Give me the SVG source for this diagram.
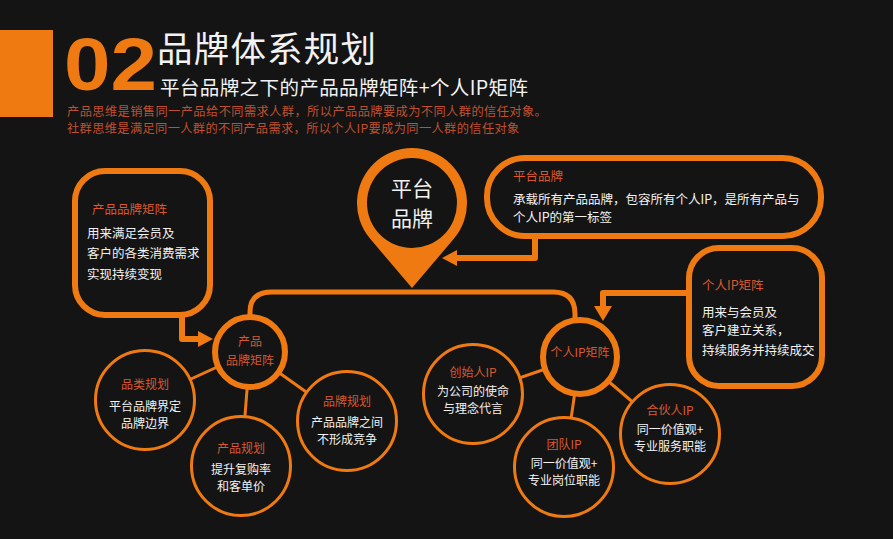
<svg xmlns="http://www.w3.org/2000/svg" width="893" height="539" viewBox="0 0 893 539">
<style>
.t{font-family:"Noto Sans CJK SC","Noto Sans",sans-serif}
.w{fill:#f2f2f2}
.lab{fill:#d9592f}
.s{font-size:12.5px}
.m{font-size:12px}
.c{text-anchor:middle}
.box{fill:#141414;stroke:#f07a12;stroke-width:6}
.sub{fill:#141414;stroke:#f07a12;stroke-width:3}
.main{fill:#141414;stroke:#f07a12;stroke-width:6}
.ln{fill:none;stroke:#f07a12;stroke-width:3}
.ar{fill:none;stroke:#f07a12;stroke-width:6;stroke-linejoin:round}
.hd{fill:#f07a12}
</style>
<rect width="893" height="539" fill="#141414"/>
<g id="header">
<rect x="0" y="30" width="53" height="87" fill="#f07a12"/>
<text x="64" y="90" font-family="Liberation Sans, sans-serif" font-weight="bold" font-size="74" fill="#f07a12" textLength="93" lengthAdjust="spacingAndGlyphs">02</text>
<text x="157" y="61.5" class="t w" font-size="35.5" letter-spacing="1.2">品牌体系规划</text>
<text x="160" y="95" class="t w" font-size="19.5" letter-spacing="0.4">平台品牌之下的产品品牌矩阵+个人IP矩阵</text>
<text x="67" y="115.5" class="t" font-size="12.2" letter-spacing="0.45" fill="#c0502f">产品思维是销售同一产品给不同需求人群，所以产品品牌要成为不同人群的信任对象。</text>
<text x="67" y="133" class="t" font-size="12.2" letter-spacing="0.4" fill="#c0502f">社群思维是满足同一人群的不同产品需求，所以个人IP要成为同一人群的信任对象</text>
</g>
<g id="connectors">
<path class="ln" d="M250 316 V312 Q250 292 272 292 H553 Q575 292 575 314 V319" style="stroke-width:5"/>
<line class="ln" x1="250" y1="352" x2="145" y2="400"/>
<line class="ln" x1="250" y1="352" x2="241" y2="466"/>
<line class="ln" x1="250" y1="352" x2="347" y2="421"/>
<line class="ln" x1="580" y1="357" x2="473" y2="394"/>
<line class="ln" x1="580" y1="357" x2="564" y2="467"/>
<line class="ln" x1="580" y1="357" x2="670" y2="434"/>
<path class="ar" d="M535 236 V258 H455"/>
<polygon class="hd" points="442,258 457,250 457,266"/>
<path class="ar" d="M182 314 V339 H200"/>
<polygon class="hd" points="213,339 198,331 198,347"/>
<path class="ar" d="M689 293 H603 V308"/>
<polygon class="hd" points="603,321 594,306 612,306"/>
</g>
<g id="pin">
<path d="M412 288 L370 238.6 A55 55 0 1 1 454 238.6 Z" fill="#f07a12"/>
<circle cx="412" cy="203" r="45" fill="#141414"/>
<text x="412" y="196" class="t w c" font-size="21">平台</text>
<text x="412" y="226" class="t w c" font-size="21">品牌</text>
</g>
<g id="platform-callout">
<rect class="box" x="487" y="158" width="334" height="78" rx="38"/>
<text x="513" y="181" class="t lab s">平台品牌</text>
<text x="513" y="204" class="t w s">承载所有产品品牌，包容所有个人IP，是所有产品与</text>
<text x="513" y="222" class="t w s">个人IP的第一标签</text>
</g>
<g id="product-callout">
<rect class="box" x="75" y="171" width="135" height="144" rx="30"/>
<text x="92" y="214" class="t lab s">产品品牌矩阵</text>
<text x="87" y="238" class="t w s">用来满足会员及</text>
<text x="87" y="258" class="t w s">客户的各类消费需求</text>
<text x="87" y="279" class="t w s">实现持续变现</text>
</g>
<g id="ip-callout">
<rect class="box" x="689" y="248" width="133" height="138" rx="30"/>
<text x="702" y="290" class="t lab s">个人IP矩阵</text>
<text x="702" y="317" class="t w s">用来与会员及</text>
<text x="702" y="335" class="t w s">客户建立关系，</text>
<text x="702" y="355" class="t w s">持续服务并持续成交</text>
</g>
<g id="product-matrix">
<circle class="main" cx="250" cy="352" r="35"/>
<text x="250" y="346" class="t lab m c">产品</text>
<text x="250" y="365" class="t lab m c">品牌矩阵</text>
</g>
<g id="category-plan">
<circle class="sub" cx="145" cy="400" r="49.5"/>
<text x="145" y="389" class="t lab m c">品类规划</text>
<text x="145" y="411" class="t w m c">平台品牌界定</text>
<text x="145" y="428" class="t w m c">品牌边界</text>
</g>
<g id="product-plan">
<circle class="sub" cx="241" cy="466" r="49.5"/>
<text x="241" y="453" class="t lab m c">产品规划</text>
<text x="241" y="474" class="t w m c">提升复购率</text>
<text x="241" y="491" class="t w m c">和客单价</text>
</g>
<g id="brand-plan">
<circle class="sub" cx="347" cy="421" r="49.5"/>
<text x="347" y="406" class="t lab m c">品牌规划</text>
<text x="347" y="427" class="t w m c">产品品牌之间</text>
<text x="347" y="444" class="t w m c">不形成竞争</text>
</g>
<g id="ip-matrix">
<circle class="main" cx="580" cy="357" r="37"/>
<text x="580" y="357" class="t lab m c">个人IP矩阵</text>
</g>
<g id="founder-ip">
<circle class="sub" cx="473" cy="394" r="49.5"/>
<text x="473" y="377" class="t lab m c">创始人IP</text>
<text x="473" y="396" class="t w m c">为公司的使命</text>
<text x="473" y="413" class="t w m c">与理念代言</text>
</g>
<g id="team-ip">
<circle class="sub" cx="564" cy="467" r="49.5"/>
<text x="564" y="449" class="t lab m c">团队IP</text>
<text x="564" y="468" class="t w m c">同一价值观+</text>
<text x="564" y="485" class="t w m c">专业岗位职能</text>
</g>
<g id="partner-ip">
<circle class="sub" cx="670" cy="434" r="49.5"/>
<text x="670" y="415" class="t lab m c">合伙人IP</text>
<text x="670" y="434" class="t w m c">同一价值观+</text>
<text x="670" y="451" class="t w m c">专业服务职能</text>
</g>
</svg>
